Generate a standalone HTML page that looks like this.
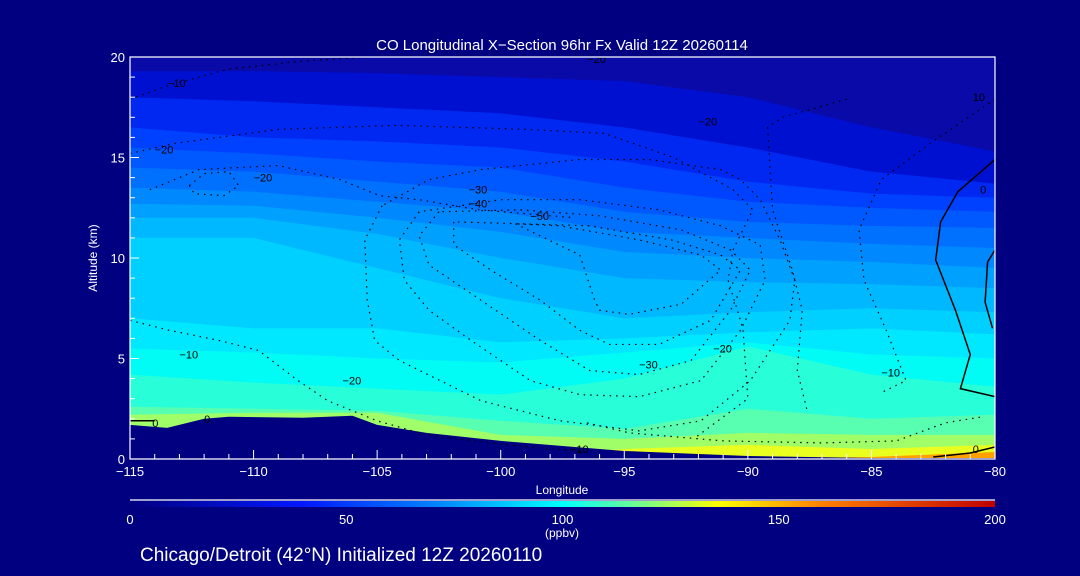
<!DOCTYPE html>
<html><head><meta charset="utf-8">
<style>
html,body{margin:0;padding:0;background:#000080;}
svg{display:block;font-family:"Liberation Sans",sans-serif;}
</style></head>
<body>
<svg id="chart" width="1080" height="576" viewBox="0 0 1080 576" xmlns="http://www.w3.org/2000/svg">
<defs>
<linearGradient id="cbar" x1="0" x2="1" y1="0" y2="0">
<stop offset="0" stop-color="#000080"/>
<stop offset="0.2" stop-color="#0018ff"/>
<stop offset="0.35" stop-color="#0080ff"/>
<stop offset="0.5" stop-color="#00ffff"/>
<stop offset="0.6" stop-color="#80ff80"/>
<stop offset="0.68" stop-color="#ffff00"/>
<stop offset="0.8" stop-color="#ff8000"/>
<stop offset="1" stop-color="#c00000"/>
</linearGradient>
<clipPath id="plotclip"><rect x="130" y="57" width="865" height="402"/></clipPath>
</defs>
<rect width="1080" height="576" fill="#000080"/>
<g id="fills" clip-path="url(#plotclip)"></g>
<g id="terrain" clip-path="url(#plotclip)"></g>
<g id="contours" clip-path="url(#plotclip)"></g>
<g id="axes"></g>
<text x="562" y="50" fill="#fff" font-size="15" text-anchor="middle">CO Longitudinal X−Section 96hr  Fx Valid 12Z 20260114</text>
<text x="97" y="258" fill="#fff" font-size="12" text-anchor="middle" transform="rotate(-90 97 258)">Altitude (km)</text>
<text x="562" y="494" fill="#fff" font-size="12" text-anchor="middle">Longitude</text>
<line x1="130" y1="500" x2="995" y2="500" stroke="#fff" stroke-width="1.2"/>
<rect x="130" y="501" width="865" height="6" fill="url(#cbar)"/>
<g id="cbticks"></g>
<text x="562" y="537" fill="#fff" font-size="12" text-anchor="middle">(ppbv)</text>
<text x="140" y="561" fill="#fff" font-size="19">Chicago/Detroit (42°N) Initialized 12Z 20260110</text>
</svg>
<script>
const lons = [-115,-110,-105,-100,-95,-90,-85,-80];
const bandColors = ["#0a0aa8","#0010d0","#0028f0","#0040ff","#0058ff","#0070ff","#0088ff","#00a0ff","#00b8ff","#00d0ff","#00e8ff","#00fcf4","#28ffd8","#58ffb0","#a0ff68","#e8ff20","#ffa000"];
const bandTops = [
 [20,20,20,20,20,20,20,20],
 [19.3,19.3,19.2,19.0,18.8,18.0,16.5,15.3],
 [18.0,17.8,17.5,17.2,16.5,15.5,14.3,13.7],
 [16.5,16.0,15.8,15.5,14.8,13.8,13.2,13.0],
 [15.5,15.2,14.8,14.5,13.5,12.8,12.5,12.3],
 [14.5,14.3,13.8,13.3,12.3,11.8,11.6,11.5],
 [13.5,13.3,12.8,12.3,11.3,11.0,10.7,10.5],
 [12.7,12.6,12.0,11.3,10.3,10.0,9.8,9.5],
 [12.0,12.0,11.2,10.0,9.0,8.8,8.7,8.5],
 [11.0,11.0,9.5,8.0,7.0,7.3,7.5,7.3],
 [7.0,6.5,6.5,5.8,6.0,6.3,6.5,6.2],
 [5.5,5.3,5.0,4.8,5.3,5.8,5.2,5.0],
 [4.2,3.8,3.5,3.2,4.0,5.6,4.2,3.6],
 [2.6,2.5,2.4,1.9,1.5,2.5,2.0,2.2],
 [2.2,2.3,2.3,1.2,1.0,1.3,1.2,1.2],
 [0,0,0,0,0.5,0.7,0.5,0.7],
 [0,0,0,0,0,0,0.1,0.35]
];
const terrainLons = [-115,-113.5,-112,-111,-108,-106,-105,-103,-100,-97,-95,-92,-90,-85,-80];
const terrainKm = [1.7,1.55,2.0,2.1,2.05,2.15,1.7,1.3,0.9,0.6,0.4,0.25,0.15,0.05,0.05];
const xTicks = [-115,-110,-105,-100,-95,-90,-85,-80];
const xTickLabels = ["−115","−110","−105","−100","−95","−90","−85","−80"];
const yTicks = [0,5,10,15,20];
const cbValues = [0,50,100,150,200];
// contour lines: [lon, km] points
const contourDotted = [
 [[-115,17.9],[-113.4,18.6],[-111,19.4],[-108,19.8],[-105.3,20]],
 [[-115,15.2],[-113.2,15.7],[-109,16.4],[-104.2,16.6],[-99,16.4],[-95.8,16.2],[-93,15.0],[-90.6,13.4],[-89.8,12.4],[-90.6,10.4],[-90.8,8.9],[-90.2,6.5],[-90,3.0],[-92.2,1.0]],
 [[-114.2,13.4],[-112.2,14.4],[-109,14.6],[-106.5,13.9],[-104.9,13.1],[-103.3,12.9],[-100.9,12.4],[-97,12.0]],
 [[-112.6,13.6],[-112,14.2],[-111,14.3],[-110.6,13.6],[-111.2,13.1],[-112.4,13.2],[-112.6,13.6]],
 [[-104.8,12.6],[-105.5,10.9],[-105.4,7.9],[-105.1,5.9],[-104.1,4.9],[-100.8,2.9],[-97.6,1.9],[-94.4,1.4],[-91.9,1.9],[-89.9,3.9],[-88.3,6.9],[-88.1,8.9],[-88.7,10.9],[-89.5,12.9],[-90.3,13.9],[-91.1,14.4],[-94,14.9],[-96.8,14.9],[-100.8,14.4],[-102.9,13.9],[-104.8,12.6]],
 [[-103.3,12.3],[-104.1,10.9],[-103.9,8.9],[-102.9,7.4],[-101.2,5.9],[-98.8,3.9],[-96.8,3.2],[-94.4,3.1],[-91.9,3.9],[-90.3,6.4],[-89.3,8.9],[-89.5,10.65],[-91.1,11.6],[-93.6,12.4],[-96.8,12.9],[-100,12.9],[-103.3,12.3]],
 [[-102.5,12.3],[-103.3,11.1],[-102.9,9.65],[-100.8,7.9],[-98.4,5.9],[-96.4,4.4],[-94.4,4.2],[-92.3,4.9],[-90.7,7.4],[-89.9,9.4],[-90.7,10.4],[-92.7,11.4],[-96,12.1],[-99.2,12.4],[-102.5,12.3]],
 [[-101.9,11.8],[-101.9,10.65],[-100.4,9.4],[-98.4,7.9],[-96.8,6.4],[-95.6,5.7],[-93.6,5.7],[-91.5,6.9],[-90.3,9.4],[-91.1,10.15],[-93.1,10.9],[-96.4,11.6],[-101.9,11.8]],
 [[-99.4,11.7],[-98.4,11.1],[-96.8,10.15],[-96.2,7.9],[-96,7.4],[-94.8,7.2],[-92.7,7.7],[-91.1,9.4],[-91.9,10.15],[-94.4,10.9],[-97.6,11.6],[-99.4,11.7]],
 [[-115,6.9],[-113.4,6.4],[-111.4,5.9],[-109.8,5.4],[-108.2,3.9],[-107,2.9],[-105,1.9],[-103,1.2],[-99.7,0.7],[-96.5,0.35]],
 [[-86,17.9],[-88.6,17.0],[-89.2,16.5],[-89,12.4],[-88.2,9.4],[-87.8,7.4],[-88,4.4],[-87.6,2.4]],
 [[-80,17.9],[-82.4,15.9],[-84.6,13.9],[-85.5,11.4],[-85.3,8.9],[-84.4,6.4],[-83.6,3.9],[-84.6,3.3]],
 [[-96.5,1.8],[-94.8,1.3],[-91,0.9],[-87,0.8],[-84,0.9],[-82,1.8],[-80.5,2.1]]
];
const contourSolid = [
 [[-80,14.9],[-81.5,13.3],[-82.2,11.8],[-82.4,9.9],[-81.6,7.4],[-81,5.2],[-81.4,3.5],[-80,3.1]],
 [[-80,10.4],[-80.3,9.8],[-80.4,7.8],[-80.1,6.5]],
 [[-115,1.9],[-114,1.9]],
 [[-82.5,0.1],[-81,0.3],[-80,0.6]]
];
const labels = [["−10",-113.5,18.7],["−20",-114,15.4],["−20",-110,14.0],["−20",-92,16.8],["−20",-96.5,19.9],["−30",-101.3,13.4],["−40",-101.3,12.7],["−50",-98.8,12.1],["−30",-94.4,4.7],["−20",-91.4,5.5],["−10",-113,5.2],["−20",-106.4,3.9],["0",-114.1,1.8],["0",-112,2.0],["−10",-97.2,0.5],["−10",-84.6,4.3],["10",-80.9,18.0],["0",-80.6,13.4],["0",-80.9,0.5]];

const X = lon => 130 + (lon + 115) / 35 * 865;
const Y = km => 459 - km / 20 * 402;
const NS = "http://www.w3.org/2000/svg";
function mk(tag, parent){ const e = document.createElementNS(NS, tag); parent.appendChild(e); return e; }

const fills = document.getElementById('fills');
bandTops.forEach((tops, i) => {
  let d = "M" + X(-115) + "," + Y(0);
  tops.forEach((t, j) => { d += " L" + X(lons[j]) + "," + Y(t); });
  d += " L" + X(-80) + "," + Y(0) + " Z";
  const p = mk('path', fills);
  p.setAttribute('d', d);
  p.setAttribute('fill', bandColors[i]);
  
  
});

const ter = document.getElementById('terrain');
let td = "M" + X(-115) + "," + Y(0);
terrainLons.forEach((l, j) => { td += " L" + X(l) + "," + Y(terrainKm[j]); });
td += " L" + X(-80) + "," + Y(0) + " Z";
const tp = mk('path', ter);
tp.setAttribute('d', td);
tp.setAttribute('fill', '#000080');



const cg = document.getElementById('contours');
function line(pts, dotted, idx){
  const p = mk('polyline', cg);
  p.setAttribute('points', pts.map(q => X(q[0]) + "," + Y(q[1])).join(" "));
  p.setAttribute('fill', 'none');
  p.setAttribute('stroke', '#000');
  p.setAttribute('stroke-width', dotted ? '1.2' : '1.5');
  if (dotted) p.setAttribute('stroke-dasharray', '1.5 5');
  
  
}
contourDotted.forEach((c, i) => line(c, true, i));
contourSolid.forEach((c, i) => line(c, false, i));
labels.forEach((l, i) => {
  const t = mk('text', cg);
  t.setAttribute('x', X(l[1])); t.setAttribute('y', Y(l[2]) + 4);
  t.setAttribute('font-size', '11'); t.setAttribute('fill', '#000');
  t.textContent = l[0];
  
  
});

const ax = document.getElementById('axes');
const frame = mk('path', ax);
frame.setAttribute('d', 'M130,57 H995 V459 H130 Z');
frame.setAttribute('fill', 'none'); frame.setAttribute('stroke', '#fff'); frame.setAttribute('stroke-width', '1.2');


for (let l = -115; l <= -80; l++) {
  const major = (l % 5 === 0);
  const len = major ? 9 : 5;
  const t1 = mk('line', ax);
  t1.setAttribute('x1', X(l)); t1.setAttribute('x2', X(l)); t1.setAttribute('y1', 459); t1.setAttribute('y2', 459 - len);
  t1.setAttribute('stroke', '#fff');
  
  
}
xTicks.forEach((v, i) => {
  const t = mk('text', ax);
  t.setAttribute('x', X(v)); t.setAttribute('y', 476);
  t.setAttribute('fill', '#fff'); t.setAttribute('font-size', '13'); t.setAttribute('text-anchor', 'middle');
  t.textContent = xTickLabels[i];
  
  
});
for (let k = 0; k <= 20; k++) {
  const major = (k % 5 === 0);
  const len = major ? 9 : 5;
  const t1 = mk('line', ax);
  t1.setAttribute('x1', 130); t1.setAttribute('x2', 130 + len); t1.setAttribute('y1', Y(k)); t1.setAttribute('y2', Y(k));
  t1.setAttribute('stroke', '#fff');
  
  
}
yTicks.forEach(v => {
  const t = mk('text', ax);
  t.setAttribute('x', 125); t.setAttribute('y', Y(v) + 5);
  t.setAttribute('fill', '#fff'); t.setAttribute('font-size', '13'); t.setAttribute('text-anchor', 'end');
  t.textContent = v;
  
  
});
const cb = document.getElementById('cbticks');
cbValues.forEach(v => {
  const t = mk('text', cb);
  t.setAttribute('x', 130 + v / 200 * 865); t.setAttribute('y', 524);
  t.setAttribute('fill', '#fff'); t.setAttribute('font-size', '13'); t.setAttribute('text-anchor', 'middle');
  t.textContent = v;
  
  
});
</script>
</body></html>
